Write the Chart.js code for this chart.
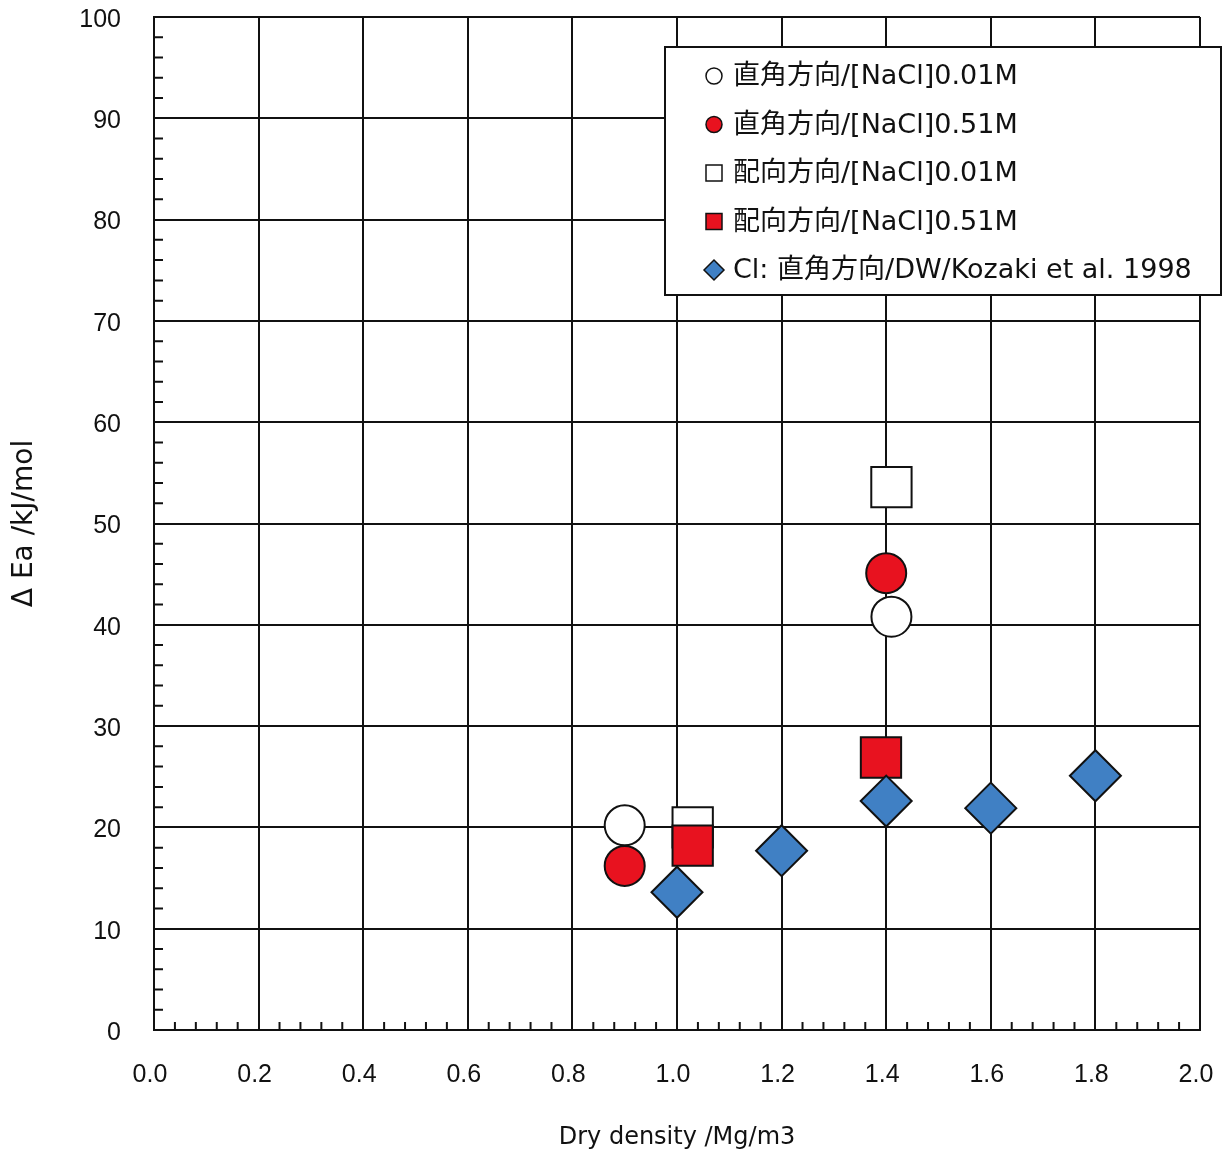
<!DOCTYPE html>
<html>
<head>
<meta charset="utf-8">
<script src="https://cdn.jsdelivr.net/npm/chart.js@4/dist/chart.umd.min.js"></script>
<style>
  html, body { margin: 0; padding: 0; background: #fff; }
  canvas { display: block; }
</style>
</head>
<body>
<canvas id="c" width="1222" height="1155"></canvas>
<script>
// Activation energy difference vs dry density
const labels = [
  '直角方向/[NaCl]0.01M',
  '直角方向/[NaCl]0.51M',
  '配向方向/[NaCl]0.01M',
  '配向方向/[NaCl]0.51M',
  'Cl: 直角方向/DW/Kozaki et al. 1998'
];

const perp001X = [0.90, 1.41];
const perp001Y = [20.2, 40.8];
const perp051X = [0.90, 1.40];
const perp051Y = [16.2, 45.1];
const orient001X = [1.03, 1.41];
const orient001Y = [20.0, 53.6];
const orient051X = [1.03, 1.39];
const orient051Y = [18.2, 26.9];
const kozakiX = [1.0, 1.2, 1.4, 1.6, 1.8];
const kozakiY = [13.6, 17.7, 22.6, 21.9, 25.1];

const xTicks = [0.0, 0.2, 0.4, 0.6, 0.8, 1.0, 1.2, 1.4, 1.6, 1.8, 2.0];
const yTicks = [0, 10, 20, 30, 40, 50, 60, 70, 80, 90, 100];

const RED = '#e8121f';
const BLUE = '#4080c4';
const pts = (xs, ys) => xs.map((x, i) => ({ x, y: ys[i] }));

const styles = [
  { pointStyle: 'circle', fill: '#ffffff', radius: 20, order: 1 },
  { pointStyle: 'circle', fill: RED, radius: 20, order: 2 },
  { pointStyle: 'rect', fill: '#ffffff', radius: 28.5, order: 4 },
  { pointStyle: 'rect', fill: RED, radius: 28.5, order: 3 },
  { pointStyle: 'rectRot', fill: BLUE, radius: 25.5, order: 0 }
];
const series = [
  pts(perp001X, perp001Y),
  pts(perp051X, perp051Y),
  pts(orient001X, orient001Y),
  pts(orient051X, orient051Y),
  pts(kozakiX, kozakiY)
];

const datasets = series.map((data, i) => ({
  label: labels[i],
  data,
  order: styles[i].order,
  pointStyle: styles[i].pointStyle,
  pointRadius: styles[i].radius,
  pointHoverRadius: styles[i].radius,
  backgroundColor: styles[i].fill,
  borderColor: '#111',
  borderWidth: 2,
  showLine: false
}));

// Short inward minor ticks along the left and bottom axes
const minorTicks = {
  id: 'minorTicks',
  afterDraw(chart) {
    const { ctx, scales: { x, y } } = chart;
    ctx.save();
    ctx.strokeStyle = '#111';
    ctx.lineWidth = 2;
    ctx.beginPath();
    for (let v = 0.04; v < 2.0; v += 0.04) {
      const r = Math.round(v * 100);
      if (r % 20 === 0) continue;
      const px = x.getPixelForValue(v);
      ctx.moveTo(px, y.bottom);
      ctx.lineTo(px, y.bottom - 8);
    }
    for (let v = 2; v < 100; v += 2) {
      if (v % 10 === 0) continue;
      const py = y.getPixelForValue(v);
      ctx.moveTo(x.left, py);
      ctx.lineTo(x.left + 9, py);
    }
    ctx.stroke();
    ctx.restore();
  }
};

// Boxed legend in the upper right corner
const boxLegend = {
  id: 'boxLegend',
  afterDraw(chart) {
    const { ctx } = chart;
    const bx = 665, by = 47, bw = 556, bh = 248;
    ctx.save();
    ctx.fillStyle = '#fff';
    ctx.fillRect(bx, by, bw, bh);
    ctx.strokeStyle = '#111';
    ctx.lineWidth = 2;
    ctx.strokeRect(bx, by, bw, bh);
    ctx.font = '27px "DejaVu Sans", "Noto Sans CJK JP", sans-serif';
    ctx.textBaseline = 'middle';
    ctx.textAlign = 'left';
    chart.data.datasets.forEach((ds, i) => {
      const cy = 76 + i * 48.5;
      const cx = 714;
      ctx.fillStyle = ds.backgroundColor;
      ctx.strokeStyle = '#111';
      ctx.lineWidth = 1.5;
      ctx.beginPath();
      if (ds.pointStyle === 'circle') {
        ctx.arc(cx, cy, 8, 0, Math.PI * 2);
      } else if (ds.pointStyle === 'rect') {
        ctx.rect(cx - 8, cy - 8, 16, 16);
      } else {
        ctx.moveTo(cx - 10, cy);
        ctx.lineTo(cx, cy - 10);
        ctx.lineTo(cx + 10, cy);
        ctx.lineTo(cx, cy + 10);
        ctx.closePath();
      }
      ctx.fill();
      ctx.stroke();
      ctx.fillStyle = '#111';
      ctx.fillText(ds.label, 733, cy + 1);
    });
    ctx.restore();
  }
};

new Chart(document.getElementById('c'), {
  type: 'scatter',
  data: { datasets },
  plugins: [minorTicks, boxLegend],
  options: {
    responsive: false,
    animation: false,
    layout: { autoPadding: false, padding: { left: 0, right: 22, top: 17, bottom: 0 } },
    plugins: { legend: { display: false }, tooltip: { enabled: false } },
    scales: {
      x: {
        type: 'linear',
        min: 0, max: 2.0,
        afterFit(s) { s.height = 125; s.paddingLeft = 0; s.paddingRight = 0; },
        afterBuildTicks(s) { s.ticks = xTicks.map(v => ({ value: v })); },
        grid: { color: '#111', lineWidth: 2, drawTicks: true, tickLength: 30, tickColor: 'rgba(0,0,0,0)' },
        border: { color: '#111', width: 2 },
        ticks: {
          padding: 0,
          labelOffset: -4,
          color: '#111',
          font: { family: '"Liberation Sans", Arial, sans-serif', size: 25 },
          callback: v => Number(v).toFixed(1)
        },
        title: {
          display: true,
          text: 'Dry density /Mg/m3',
          color: '#111',
          font: { family: '"DejaVu Sans", sans-serif', size: 24 },
          padding: { top: 0, bottom: 3 }
        }
      },
      y: {
        type: 'linear',
        min: 0, max: 100,
        afterFit(s) { s.width = 154; s.paddingTop = 0; s.paddingBottom = 0; },
        afterBuildTicks(s) { s.ticks = yTicks.map(v => ({ value: v })); },
        grid: { color: '#111', lineWidth: 2, drawTicks: true, tickLength: 33, tickColor: 'rgba(0,0,0,0)' },
        border: { color: '#111', width: 2 },
        ticks: {
          padding: 0,
          labelOffset: 3,
          color: '#111',
          font: { family: '"Liberation Sans", Arial, sans-serif', size: 25 }
        },
        title: {
          display: true,
          text: 'Δ Ea /kJ/mol',
          color: '#111',
          font: { family: '"DejaVu Sans", sans-serif', size: 28 },
          padding: { top: 8, bottom: 0 }
        }
      }
    }
  }
});
</script>
</body>
</html>
